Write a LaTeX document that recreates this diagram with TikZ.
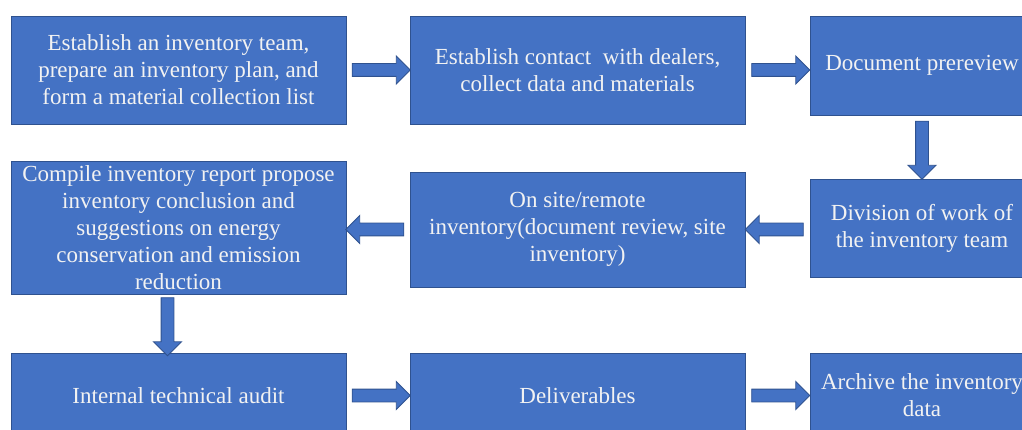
\documentclass[tikz,border=0pt]{standalone}
\usepackage{fontspec}
\setmainfont{Liberation Serif}
\usepackage{xcolor}
\usepackage{tikz}
\usetikzlibrary{calc,shapes.arrows}
\definecolor{boxfill}{HTML}{4472C4}
\definecolor{boxline}{HTML}{2F528F}
\definecolor{boxtext}{HTML}{F2F2F2}
\tikzset{
  stage/.style={draw=boxline, fill=boxfill, line width=0.9pt, text=boxtext,
    align=center, inner sep=2pt, font=\fontsize{23}{27}\selectfont},
  wide/.style={stage, minimum width=335pt},
  edge/.style={stage, minimum width=224pt},
  flow/.style={single arrow, draw=boxline, fill=boxfill, line width=0.9pt,
    inner sep=0pt, text height=12pt, text depth=0pt,
    single arrow head extend=7.5pt, minimum height=58pt}
}
\begin{document}
\begin{tikzpicture}[x=1pt,y=-1pt]
  \useasboundingbox (0,0) rectangle (1022,430);
  \clip (0,0) rectangle (1022,430);

  % first row
  \node[wide, minimum height=108pt] (team) at (178.5,70)
    {Establish an inventory team,\\prepare an inventory plan, and\\form a material collection list};
  \node[wide, minimum height=108pt] (contact) at (577.5,70)
    {Establish contact\ \ with dealers,\\collect data and materials};
  \node[edge, minimum height=99pt] (prereview) at (922,65.5) {Document prereview};

  % second row
  \node[edge, minimum height=98pt] (division) at (922,228)
    {Division of work of\\the inventory team};
  \node[wide, minimum height=115pt] (onsite) at (577.5,229.5)
    {On site/remote\\inventory(document review, site\\inventory)};
  \node[wide, minimum height=133pt, inner sep=0pt] (report) at (178.5,227.5)
    {Compile inventory report propose\\inventory conclusion and\\suggestions on energy\\conservation and emission\\reduction};

  % third row
  \node[wide, minimum height=85pt] (audit) at (178.5,395.5) {Internal technical audit};
  \node[wide, minimum height=85pt] (deliver) at (577.5,395.5) {Deliverables};
  \node[edge, minimum height=85pt] (archive) at (922,395.5)
    {Archive the inventory\\data};

  % block arrows
  \node[flow] (a1) at ($(team.east)!0.5!(contact.west)$) {};
  \node[flow] (a2) at ($(contact.east)!0.5!(prereview.west |- contact.east)$) {};
  \node[flow, rotate=-90] (a3) at ($(prereview.south)!0.5!(division.north)$) {};
  \node[flow, rotate=180] (a4) at ($(division.west |- onsite.east)!0.5!(onsite.east)$) {};
  \node[flow, rotate=180] (a5) at ($(onsite.west)!0.5!(report.east |- onsite.west)$) {};
  \node[flow, rotate=-90] (a6) at ($(report.south)!0.5!(audit.north)+(-11,0)$) {};
  \node[flow] (a7) at ($(audit.east)!0.5!(deliver.west)$) {};
  \node[flow] (a8) at ($(deliver.east)!0.5!(archive.west)$) {};
\end{tikzpicture}
\end{document}
